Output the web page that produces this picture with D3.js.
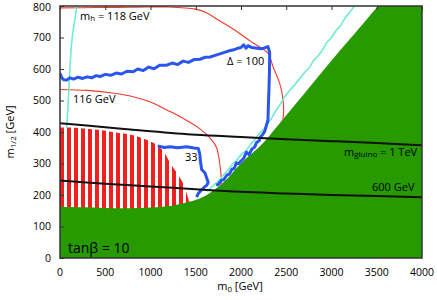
<!DOCTYPE html>
<html>
<head>
<meta charset="utf-8">
<script src="https://cdn.jsdelivr.net/npm/d3@7.9.0/dist/d3.min.js"></script>
<style>
  body { margin: 0; background: #fff; }
  svg { display: block; font-family: "Open Sans", sans-serif; }
</style>
</head>
<body>
<svg id="chart" width="437" height="300"></svg>
<script>
// axis ticks
const m0Ticks = [0, 500, 1000, 1500, 2000, 2500, 3000, 3500, 4000];
const m12Ticks = [0, 100, 200, 300, 400, 500, 600, 700, 800];

// green excluded region, upper edge (m0, m1/2)
const excludedEdge = [[0,163],[250,161],[500,159],[750,158],[1000,160],[1250,167],[1436,179],[1550,190],
  [1650,205],[1731,222],[1850,252],[1952,286],[2050,314],[2173,345],[2284,378],[2500,453],[2750,540],
  [3000,627],[3250,710],[3514,800]];

// red hatched region, upper edge
const hatchEdge = [[0,414],[200,413],[442,406],[600,399],[808,390],[950,376],[1068,359],[1150,336],
  [1215,303],[1300,266],[1359,238],[1400,205],[1425,178]];

// m_h contours
const mh118 = [[0,794],[400,795],[800,796],[1200,797],[1500,790],[1624,778],[1735,758],[1930,724],
  [2111,687],[2298,650],[2354,607],[2427,555],[2464,502],[2471,460],[2462,440]];
const mh116 = [[0,535],[300,532],[600,523],[808,512],[1000,495],[1180,470],[1350,445],[1547,410],
  [1676,375],[1731,350],[1765,300],[1780,260],[1782,232]];

// cyan lines
const cyanLeft = [[184,800],[172,770],[160,750],[150,730],[140,713],[128,680],[118,640],[110,608],
  [102,560],[92,502],[84,460],[74,413]];
const cyanRight = [[3256,800],[3200,780],[3150,762],[3100,737],[3050,722],[3000,700],[2950,685],
  [2900,660],[2851,641],[2800,626],[2750,602],[2700,588],[2650,570],[2600,552],[2550,536],
  [2482,512],[2430,486],[2380,465],[2330,440],[2298,428],[2250,408],[2200,394],[2150,374],
  [2114,364],[2060,342],[2000,328],[1950,310],[1900,296],[1850,276],[1800,262],[1750,244],
  [1700,232],[1650,218],[1620,212]];

// fine-tuning contours
const delta100 = [[0,586],[20,572],[40,566],[74,565],[110,572],[150,568],[200,574],[250,570],
  [300,575],[350,572],[400,579],[442,576],[500,583],[560,580],[620,587],[680,584],[740,593],
  [808,591],[860,600],[920,595],[980,606],[1040,601],[1100,612],[1180,612],[1240,619],[1300,614],
  [1360,625],[1420,621],[1480,630],[1547,631],[1600,637],[1660,638],[1731,645],[1800,651],
  [1860,657],[1920,661],[1967,666],[2000,668],[2030,677],[2055,666],[2077,674],[2120,668],
  [2160,667],[2224,664],[2260,667],[2298,671],[2317,652],[2315,600],[2310,544],[2302,480],
  [2298,438],[2280,420],[2262,402],[2240,392],[2215,384],[2200,372],[2170,366],[2151,352],
  [2120,346],[2090,328],[2060,336],[2030,316],[2000,308],[1975,300],[1950,302],[1925,284],
  [1900,282],[1870,266],[1840,262],[1810,249],[1780,246],[1750,234],[1725,231]];
const delta33 = [[1080,356],[1150,351],[1215,353],[1300,350],[1400,353],[1480,349],[1528,348],
  [1545,330],[1550,311],[1565,281],[1602,270],[1638,240],[1620,230],[1602,227],[1560,215],
  [1528,205],[1510,193]];

// gluino mass lines
const gluino1TeV = [[0,428],[500,415],[1000,402],[1500,391],[2000,384],[2500,377],[3000,371],
  [3500,365],[4000,358]];
const gluino600 = [[0,246],[500,236],[1000,227],[1500,218],[2000,210],[2500,205],[3000,200],
  [3500,197],[4000,193]];

const svg = d3.select('#chart');
const x = d3.scaleLinear().domain([0, 4000]).range([60, 422]);
const y = d3.scaleLinear().domain([0, 800]).range([258, 6]);

const line = d3.line().x(d => x(d[0])).y(d => y(d[1]));
const smooth = d3.line().x(d => x(d[0])).y(d => y(d[1])).curve(d3.curveCatmullRom);

svg.append('defs').append('clipPath').attr('id', 'plot')
  .append('rect').attr('x', 60).attr('y', 6).attr('width', 362).attr('height', 252);

// stripes pattern
const pat = svg.select('defs').append('pattern')
  .attr('id', 'stripes').attr('patternUnits', 'userSpaceOnUse')
  .attr('x', 60).attr('width', 7).attr('height', 10);
pat.append('rect').attr('width', 4).attr('height', 10).attr('fill', '#f21f1f');

const g = svg.append('g').attr('clip-path', 'url(#plot)');

g.append('path')
  .attr('d', smooth(hatchEdge.concat([[1425, 0], [0, 0]])))
  .attr('fill', 'url(#stripes)');

g.append('path')
  .attr('d', smooth(excludedEdge) + 'L' + x(4000) + ',' + y(800) + 'L' + x(4000) + ',' + y(0) +
    'L' + x(0) + ',' + y(0) + 'Z')
  .attr('fill', '#279a00');

[mh118, mh116].forEach(d => {
  g.append('path').attr('d', smooth(d)).attr('fill', 'none')
    .attr('stroke', '#f03a2a').attr('stroke-width', 1.1);
});

[cyanLeft, cyanRight].forEach(d => {
  g.append('path').attr('d', line(d)).attr('fill', 'none')
    .attr('stroke', '#6eecd0').attr('stroke-width', 1.6);
});

[delta100, delta33].forEach(d => {
  g.append('path').attr('d', line(d)).attr('fill', 'none')
    .attr('stroke', '#2a55ee').attr('stroke-width', 3).attr('stroke-linejoin', 'round');
});

[gluino1TeV, gluino600].forEach(d => {
  g.append('path').attr('d', smooth(d)).attr('fill', 'none')
    .attr('stroke', '#111').attr('stroke-width', 2);
});

// frame and ticks
svg.append('rect').attr('x', 60).attr('y', 6).attr('width', 362).attr('height', 252)
  .attr('fill', 'none').attr('stroke', '#333').attr('stroke-width', 1.5);

svg.append('g').attr('transform', 'translate(0,6)')
  .call(d3.axisTop(x).tickValues(m0Ticks).tickSizeInner(-4).tickSizeOuter(0).tickFormat(''))
  .call(a => a.select('.domain').remove())
  .selectAll('line').attr('stroke', '#333');
svg.append('g').attr('transform', 'translate(60,0)')
  .call(d3.axisLeft(y).tickValues(m12Ticks).tickSizeInner(-4).tickSizeOuter(0).tickFormat(''))
  .call(a => a.select('.domain').remove())
  .selectAll('line').attr('stroke', '#333');

svg.append('g').selectAll('text').data(m0Ticks).join('text')
  .attr('x', d => x(d)).attr('y', 276).attr('text-anchor', 'middle')
  .attr('font-size', 10.5).text(d => d);
svg.append('g').selectAll('text').data(m12Ticks).join('text')
  .attr('x', 51).attr('y', d => Math.max(y(d) + 3.5, 11)).attr('text-anchor', 'end')
  .attr('font-size', 10.5).text(d => d);

// axis titles
const xt = svg.append('text').attr('x', 240).attr('y', 290).attr('text-anchor', 'middle')
  .attr('font-size', 11);
xt.append('tspan').text('m');
xt.append('tspan').attr('font-size', 8).attr('dy', 2).text('0');
xt.append('tspan').attr('dy', -2).text(' [GeV]');

const yt = svg.append('text').attr('transform', 'translate(14,132) rotate(-90)')
  .attr('text-anchor', 'middle').attr('font-size', 11);
yt.append('tspan').text('m');
yt.append('tspan').attr('font-size', 8).attr('dy', 2).text('1/2');
yt.append('tspan').attr('dy', -2).text(' [GeV]');

// annotations
function label(px, py, parts, size) {
  const t = svg.append('text').attr('x', px).attr('y', py).attr('font-size', size || 11);
  parts.forEach(p => {
    const s = t.append('tspan').text(p[0]);
    if (p[1]) s.attr('font-size', 8).attr('dy', 1);
    if (p[2]) s.attr('dy', -1);
  });
  return t;
}
label(80, 20, [['m'], ['h', true], [' = 118 GeV', false, true]]);
label(73, 103, [['116 GeV']]);
label(227, 65, [['Δ = 100']]);
label(185, 161, [['33']]);
label(344, 156, [['m'], ['gluino', true], [' = 1 TeV', false, true]]);
label(372, 191, [['600 GeV']]);
label(68, 253, [['tanβ = 10']], 14);
</script>
</body>
</html>
